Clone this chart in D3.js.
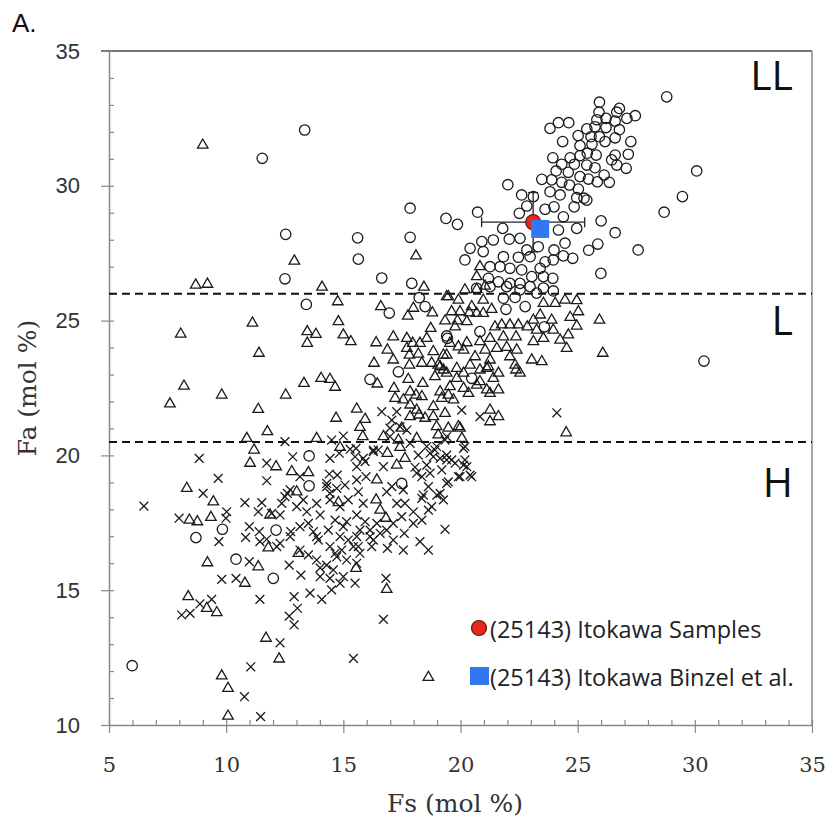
<!DOCTYPE html>
<html>
<head>
<meta charset="utf-8">
<script src="https://cdn.jsdelivr.net/npm/d3@7"></script>
<style>
  body { margin: 0; background: #fff; }
  svg { display: block; }
</style>
</head>
<body>
<div id="plot"></div>
<script>
// Fs / Fa (mol %), [Fs, Fa]
const llPoints = [
  [13.35,32.07],[11.54,31.02],[12.54,28.2],[12.51,26.55],[15.61,28.07],[15.64,27.28],[17.85,29.17],[17.85,28.09],
  [19.38,28.79],[16.64,26.58],[17.92,26.38],[13.42,25.6],[16.96,25.28],[18.24,25.85],[18.49,25.52],[19.41,24.43],
  [28.8,33.3],[30.08,30.55],[29.47,29.6],[28.69,29.02],[27.58,27.62],[25.99,26.75],[26.6,28.26],[26.0,28.7],
  [25.86,27.84],[25.47,27.61],[19.87,28.57],[20.73,29.02],[22.02,30.04],[30.39,23.5],
  [25.93,33.10],[26.78,32.87],[25.91,32.73],[26.67,32.73],[27.10,32.50],[27.46,32.60],[26.21,32.50],[25.82,32.45],
  [26.60,32.40],[23.82,32.13],[24.18,32.34],[24.62,32.34],[25.39,32.11],[25.74,32.19],[26.21,32.16],[26.78,32.08],
  [25.02,31.86],[25.57,31.82],[25.93,31.82],[26.60,31.78],[24.36,31.64],[25.10,31.49],[25.61,31.54],[26.17,31.64],
  [27.27,31.64],[25.41,31.21],[25.79,31.14],[25.10,31.12],[24.68,31.04],[23.94,31.04],[24.32,30.80],[24.86,30.80],
  [25.39,30.77],[25.74,30.67],[26.60,31.14],[27.16,31.17],[26.45,30.96],[26.67,30.77],[27.07,30.65],[24.08,30.55],
  [24.60,30.50],[25.10,30.34],[25.46,30.25],[25.84,30.15],[26.13,30.40],[26.35,30.13],[23.47,30.24],[23.89,30.22],
  [24.32,30.13],[24.65,30.03],[23.82,29.78],[24.25,29.66],[25.03,29.88],[24.96,29.56],[25.27,29.54],[22.61,29.66],
  [23.11,29.60],
  [22.51,28.98],[22.83,29.25],[23.61,29.13],[23.99,29.22],[24.39,28.85],[24.85,29.22],[25.39,29.47],[21.80,28.42],
  [22.08,28.02],[22.54,28.05],[24.18,28.36],[24.46,27.87],[24.96,28.42],[23.99,27.62],[20.91,27.93],[21.40,27.99],
  [20.41,27.68],[20.19,27.25],[21.69,27.00],[21.26,27.00],[22.47,27.35],[22.97,27.37],[22.11,26.94],[22.61,26.88],
  [23.40,26.94],[23.96,27.25],[24.39,27.40],[24.79,27.31],[23.61,27.18],[23.04,26.63],[23.54,26.63],[23.94,26.57],
  [21.19,26.57],[21.62,26.44],[22.11,26.38],[22.54,26.38],[20.69,26.20],[21.26,26.26],[21.97,26.26],[22.54,26.14],
  [22.97,26.26],[23.32,27.74],[22.83,27.62],[21.83,27.37],[20.97,27.56],
  [21.83,25.83],[22.33,25.86],[21.94,25.42],[22.76,25.52],[23.58,24.77],[20.83,24.59],[19.44,24.34],[23.54,26.21],
  [23.96,26.10],[23.25,26.02],
  [13.54,19.98],[13.54,18.87],[17.49,18.96],[16.14,22.82],[17.35,23.10],[9.84,17.26],[8.71,16.95],[12.13,17.23],
  [10.42,16.15],[12.01,15.44],[5.99,12.20],[20.48,22.86]
];

const lPoints = [
  [9.0,31.51],[8.70,26.32],[9.20,26.35],[12.91,27.21],[14.09,26.24],[18.10,27.40],[18.44,26.24],[14.76,25.70],
  [16.60,25.52],[17.99,25.46],[17.75,25.17],[18.80,25.29],[19.41,25.89],[19.34,24.99],[18.73,24.71],[11.12,24.91],
  [14.79,24.96],[8.06,24.50],[13.46,24.59],[13.83,24.49],[15.00,24.47],[17.13,24.40],[17.71,24.34],
  [13.46,24.16],[15.32,24.22],[16.40,24.18],[17.96,24.16],[11.40,23.79],[16.88,23.91],[17.13,23.54],[16.31,23.42],
  [17.82,23.72],[18.20,23.76],[18.84,23.85],[17.82,23.35],[18.35,23.42],[18.77,23.42],[19.27,23.72],[8.20,22.57],
  [7.60,21.91],[9.81,22.24],[12.54,22.24],[13.32,22.67],[14.05,22.86],[14.43,22.82],[14.65,22.53],[16.45,22.65],
  [17.16,22.49],[17.77,22.82],[18.39,22.67],[17.21,22.12],[17.56,22.06],[18.10,22.24],[18.35,22.18],[18.84,21.81],
  [19.20,22.12],[11.37,21.71],[15.57,21.72],[14.69,21.38],[15.93,21.34],[15.71,21.04],[11.76,20.88],[17.85,21.87],
  [18.23,21.50],[18.49,21.38],[18.84,21.44],[17.85,21.44],[17.49,21.01],[16.71,20.70],[15.83,20.70],[13.86,20.63],
  [10.88,20.63],[11.19,20.20],[11.02,19.71],[12.13,19.58],[12.80,19.40],[13.51,19.36],[13.01,18.65],[16.88,20.08],
  [17.28,19.64],[17.63,19.89],[16.43,19.09],[8.32,18.78],[9.45,18.28],[11.87,17.79],[8.43,17.60],[8.77,17.54],
  [9.35,17.70],[14.79,18.25],[16.40,18.35],[16.57,17.97],[16.82,17.67],[11.80,16.57],[9.20,16.02],[10.80,15.26],
  [13.08,16.37],[15.54,15.81],[8.38,14.76],[9.17,14.33],[9.60,14.17],[16.85,15.03],[11.70,13.22],[12.26,12.45],
  [9.81,11.82],[10.08,11.36],[10.08,10.33],[18.63,11.77],[11.37,15.87],
  [20.83,27.00],[20.69,26.63],[21.05,26.28],[20.69,26.16],[20.19,26.14],[19.48,25.89],[19.91,25.76],[20.97,25.76],
  [20.48,25.52],[21.33,25.42],[20.97,25.27],[19.62,25.33],[19.98,25.33],[20.38,25.29],[20.69,25.27],[19.87,24.99],
  [20.27,24.96],[19.77,24.77],[21.47,24.77],[21.76,24.84],[22.11,24.84],[22.47,24.84],[22.85,24.77],[23.11,25.02],
  [23.25,24.65],[23.89,25.02],[23.96,24.65],[23.54,25.64],[24.04,25.64],[24.46,25.76],[24.96,25.74],[25.03,25.33],
  [24.68,25.12],[24.96,24.80],[23.40,25.21],[25.93,25.02],[26.07,23.79],[24.60,24.47],[24.25,24.28],[24.53,23.97],
  [23.54,24.34],[23.11,24.22],[22.37,24.40],[21.83,24.40],[21.26,24.34],[20.83,24.22],[20.27,24.18],[19.91,24.03],
  [19.55,24.16],[18.56,24.34],[18.27,24.16],[17.71,23.97],[19.41,23.72],[20.13,23.91],[20.62,23.66],[21.05,23.91],
  [21.55,23.97],[21.97,24.01],[22.40,23.91],[22.11,23.66],[21.26,23.54],[23.04,23.54],[23.47,23.48],[21.19,23.29],
  [22.33,23.35],[20.41,23.35],[19.84,23.23],[19.13,23.29],
  [24.51,20.84],[22.37,23.17],[21.62,23.05],[21.62,22.43],[21.26,22.30],[20.69,22.61],[20.13,22.49],[19.55,22.55],
  [21.26,21.68],[21.62,21.44],[21.26,21.25],[19.91,21.07],[19.48,21.01],[18.98,21.07],[20.06,20.63],[20.83,23.17],
  [19.27,23.17],
  [17.85,22.36],[14.86,20.30],[17.42,20.30],[17.35,20.57],[18.13,20.63],[19.98,21.01],[19.05,20.76],[18.13,21.68],
  [19.34,21.56],[19.05,23.35],[18.91,22.92],[19.41,23.05],[19.84,22.86],[20.13,23.05],[19.13,22.36],[19.48,22.24],
  [20.34,22.30],[21.12,22.43],[20.83,22.74],[21.40,22.86],[21.12,23.23],[22.54,23.05],[19.70,22.06]
];

const hPoints = [
  [6.49,18.12],[8.85,19.89],[9.66,19.15],[9.02,18.59],[7.99,17.67],[10.02,17.91],[9.99,17.67],[10.80,18.25],
  [11.52,18.25],[11.37,17.91],[11.94,17.85],[11.73,19.06],[11.73,19.71],[12.51,20.51],[12.84,19.95],[13.15,19.21],
  [12.61,18.59],[12.37,18.22],[10.99,17.36],[11.41,17.17],[10.83,16.96],[11.73,16.89],[12.30,16.74],[12.76,17.17],
  [9.69,16.80],[10.99,16.06],[9.81,15.40],[10.42,15.44],[12.69,15.93],[13.19,15.56],[11.44,14.66],[8.10,14.08],
  [8.46,14.14],[8.88,14.49],[9.38,14.66],[12.90,14.76],[13.04,14.33],[12.69,14.04],[12.90,13.71],[12.30,13.05],
  [11.05,12.16],[10.78,11.05],[11.47,10.31],[15.43,12.47],[16.71,13.92],[16.82,15.44],[16.88,16.55],[18.27,16.80],
  [18.63,16.49],[19.34,17.26],[16.64,21.62],[14.43,19.89],[14.83,20.08],[15.54,20.26],[14.40,19.31],[14.74,19.27],
  [15.07,18.90],[15.57,19.58],[15.97,19.21],[16.28,20.14],[15.85,19.89],[16.71,19.58],[17.07,18.84],[17.63,18.22],
  [17.99,17.91],[17.49,17.73],[17.13,17.48],[17.99,17.48],[17.60,17.11],[18.35,19.21],[18.63,18.84],[18.63,17.97],
  [18.35,18.41],[18.99,18.53],[19.27,18.35],[18.06,19.56],[18.84,19.95],[19.20,19.46],[18.20,20.01],[18.56,19.64],
  [12.73,18.72],[13.29,18.35],[13.44,17.91],[13.86,18.22],[14.29,18.84],[14.43,18.35],[14.86,18.10],[15.21,18.35],
  [14.01,17.79],[14.65,17.60],[15.14,17.54],[15.57,17.79],[15.93,17.54],[16.43,17.48],[15.71,17.23],[16.14,16.99],
  [16.57,17.11],[13.15,17.36],[13.51,17.48],[13.72,17.17],[14.36,17.23],[14.86,16.99],[15.21,16.86],[15.64,16.62],
  [16.21,16.62],[13.93,16.86],[13.15,16.49],[13.51,16.31],[13.86,16.12],[14.29,15.93],[14.72,16.24],[15.14,16.12],
  [15.57,16.00],[14.57,15.75],[15.00,15.50],[14.43,15.44],[14.01,15.50],[13.58,14.89],[14.08,14.66],[14.50,15.01],
  [14.86,15.26],[15.50,15.26],
  [17.28,21.62],[17.07,21.31],[16.99,21.01],[17.42,21.07],[17.71,20.94],[20.05,21.68],[20.83,21.44],[24.11,21.58],
  [14.50,20.57],[15.00,20.72],[15.29,20.23],[15.50,19.95],[16.28,20.20],[18.56,20.33],[18.91,20.20],[19.41,19.83],
  [20.13,20.26],[20.19,19.83],[19.34,20.57],
  [14.29,18.96],[14.72,18.78],[14.43,18.59],[15.93,19.77],[15.57,19.09],[15.64,18.65],[15.85,18.22],[16.85,18.65],
  [17.28,18.22],[17.56,18.72],[18.13,19.34],[18.70,19.34],[18.70,20.08],[19.13,19.89],[19.62,19.83],[20.13,19.64],
  [20.19,20.33],[19.98,19.21],[20.41,19.27],[19.41,18.96],[18.41,18.53],[18.35,17.60],[16.85,17.23],[16.14,17.23],
  [17.13,16.86],[16.28,16.86],[15.57,16.99],[15.00,17.36],[12.73,16.99],[12.16,16.62],[11.44,16.80],[12.51,18.47],
  [13.01,18.10],[12.30,17.79],[13.86,16.99],[14.43,16.62],[14.93,16.49],[15.43,16.62],[17.56,16.49],
  [14.01,15.83],[14.65,16.37],[15.71,16.37],
  [19.41,20.70],[18.98,20.33],[19.41,20.01],[19.77,19.71],[20.27,19.58],[20.48,19.21],[19.91,19.21],[19.48,19.02],
  [19.13,18.59],[18.77,18.10],[16.49,20.20],[16.99,20.70],[17.85,20.45]
];

// Itokawa: returned samples (with error bars) and Binzel et al.
const sample = { fs: 23.1, fa: 28.65, fsLo: 20.9, fsHi: 25.3, faLo: 27.55, faHi: 29.75 };
const binzel = { fs: 23.4, fa: 28.4 };

const boundaries = [26, 20.5];
const groupLabels = [["LL", 33.55], ["L", 24.45], ["H", 18.45]];
const xTicks = [5, 10, 15, 20, 25, 30, 35];
const yTicks = [10, 15, 20, 25, 30, 35];

const W = 829, H = 823;
const mLeft = 109, mRight = 812, mTop = 51, mBottom = 725;

const svg = d3.select("#plot").append("svg")
  .attr("width", W).attr("height", H);

const x = d3.scaleLinear().domain([5, 35]).range([mLeft, mRight]);
const y = d3.scaleLinear().domain([10, 35]).range([mBottom, mTop]);

// frame
svg.append("line").attr("x1", mLeft - 8).attr("x2", mRight).attr("y1", mTop).attr("y2", mTop)
  .attr("stroke", "#444").attr("stroke-width", 1.6);
svg.append("line").attr("x1", mRight).attr("x2", mRight).attr("y1", mTop).attr("y2", mBottom)
  .attr("stroke", "#888").attr("stroke-width", 1.5);

// minor ticks (inside)
svg.append("g").attr("transform", "translate(0," + mBottom + ")")
  .call(d3.axisBottom(x).tickValues(d3.range(5, 36, 1)).tickSize(-5).tickFormat(""))
  .call(g => g.select(".domain").remove());
svg.append("g").attr("transform", "translate(" + mLeft + ",0)")
  .call(d3.axisLeft(y).tickValues(d3.range(10, 36, 1)).tickSize(-5).tickFormat(""))
  .call(g => g.select(".domain").remove());

// main axes
const xAxis = svg.append("g").attr("transform", "translate(0," + mBottom + ")")
  .call(d3.axisBottom(x).tickValues(xTicks).tickSize(8).tickSizeOuter(0).tickPadding(24));
xAxis.selectAll("text").attr("font-family", "'DejaVu Serif', serif").attr("font-size", 21).attr("fill", "#333");

const yAxis = svg.append("g").attr("transform", "translate(" + mLeft + ",0)")
  .call(d3.axisLeft(y).tickValues(yTicks).tickSize(8).tickSizeOuter(0).tickPadding(21));
yAxis.selectAll("text").attr("font-family", "'Liberation Sans', Arial, sans-serif").attr("font-size", 22).attr("fill", "#333");

svg.selectAll(".tick line").attr("stroke", "#888").attr("stroke-width", 1.2);
svg.selectAll(".domain").attr("stroke", "#888").attr("stroke-width", 1.5);

// boundaries between groups
svg.selectAll("line.bound")
  .data(boundaries)
  .enter().append("line")
    .attr("class", "bound")
    .attr("x1", mLeft).attr("x2", mRight)
    .attr("y1", d => y(d)).attr("y2", d => y(d))
    .attr("stroke", "#111").attr("stroke-width", 2)
    .attr("stroke-dasharray", "8,5");

// LL circles
svg.append("g").selectAll("circle")
  .data(llPoints)
  .enter().append("circle")
    .attr("cx", d => x(d[0]))
    .attr("cy", d => y(d[1]))
    .attr("r", 5.2)
    .attr("fill", "none")
    .attr("stroke", "#1a1a1a")
    .attr("stroke-width", 1.3);

// L triangles
const tri = d3.symbol().type(d3.symbolTriangle).size(48);
svg.append("g").selectAll("path")
  .data(lPoints)
  .enter().append("path")
    .attr("d", tri)
    .attr("transform", d => "translate(" + x(d[0]) + "," + y(d[1]) + ")")
    .attr("fill", "none")
    .attr("stroke", "#1a1a1a")
    .attr("stroke-width", 1.3);

// H crosses
const cr = 4.4;
svg.append("g").selectAll("path")
  .data(hPoints)
  .enter().append("path")
    .attr("d", d => {
      let cx = x(d[0]), cy = y(d[1]);
      return "M" + (cx - cr) + "," + (cy - cr) + "L" + (cx + cr) + "," + (cy + cr) +
             "M" + (cx + cr) + "," + (cy - cr) + "L" + (cx - cr) + "," + (cy + cr);
    })
    .attr("stroke", "#1a1a1a")
    .attr("stroke-width", 1.3);

// error bars
const eb = svg.append("g").attr("stroke", "#222").attr("stroke-width", 1.3);
eb.append("line").attr("x1", x(sample.fsLo)).attr("x2", x(sample.fsHi))
  .attr("y1", y(sample.fa)).attr("y2", y(sample.fa));
eb.append("line").attr("x1", x(sample.fs)).attr("x2", x(sample.fs))
  .attr("y1", y(sample.faLo)).attr("y2", y(sample.faHi));
[sample.fsLo, sample.fsHi].forEach(v => {
  eb.append("line").attr("x1", x(v)).attr("x2", x(v))
    .attr("y1", y(sample.fa) - 5).attr("y2", y(sample.fa) + 5);
});
[sample.faLo, sample.faHi].forEach(v => {
  eb.append("line").attr("x1", x(sample.fs) - 5).attr("x2", x(sample.fs) + 5)
    .attr("y1", y(v)).attr("y2", y(v));
});

svg.append("circle")
  .attr("cx", x(sample.fs)).attr("cy", y(sample.fa)).attr("r", 7.5)
  .attr("fill", "#e8261b").attr("stroke", "#5a1a10").attr("stroke-width", 1.2);
svg.append("rect")
  .attr("x", x(binzel.fs) - 9).attr("y", y(binzel.fa) - 9)
  .attr("width", 18).attr("height", 18)
  .attr("fill", "#3276f0");

// group labels
svg.selectAll("text.grp")
  .data(groupLabels)
  .enter().append("text")
    .attr("class", "grp")
    .attr("x", 793)
    .attr("y", d => y(d[1]))
    .attr("text-anchor", "end")
    .attr("font-family", "'Open Sans', sans-serif")
    .attr("font-size", 41)
    .attr("fill", "#111")
    .text(d => d[0]);

// legend
const legend = svg.append("g").attr("font-family", "'Open Sans', sans-serif").attr("font-size", 23.5).attr("fill", "#222");
legend.append("circle").attr("cx", 479).attr("cy", 628).attr("r", 7.5)
  .attr("fill", "#e8261b").attr("stroke", "#5a1a10").attr("stroke-width", 1.2);
legend.append("text").attr("x", 490).attr("y", 638).text("(25143) Itokawa Samples");
legend.append("rect").attr("x", 470).attr("y", 667).attr("width", 19).attr("height", 18).attr("fill", "#3276f0");
legend.append("text").attr("x", 490).attr("y", 686).text("(25143) Itokawa Binzel et al.");

// titles
svg.append("text").attr("x", 12).attr("y", 32)
  .attr("font-family", "'Liberation Sans', Arial, sans-serif").attr("font-size", 26).attr("fill", "#111")
  .text("A.");
svg.append("text").attr("x", 455).attr("y", 812)
  .attr("text-anchor", "middle")
  .attr("font-family", "'DejaVu Serif', serif").attr("font-size", 25).attr("fill", "#333")
  .text("Fs (mol %)");
svg.append("text")
  .attr("transform", "translate(36," + ((mTop + mBottom) / 2) + ") rotate(-90)")
  .attr("text-anchor", "middle")
  .attr("font-family", "'DejaVu Serif', serif").attr("font-size", 25).attr("fill", "#333")
  .text("Fa (mol %)");
</script>
</body>
</html>
